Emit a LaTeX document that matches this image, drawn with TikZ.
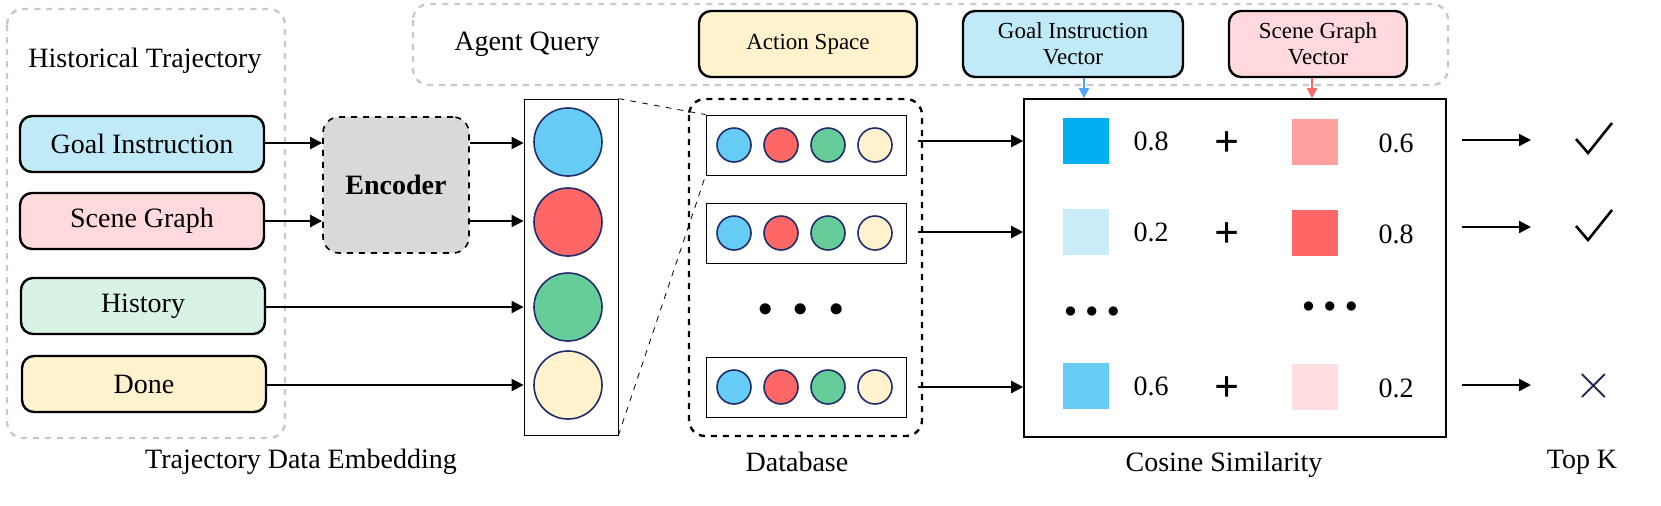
\documentclass[tikz,border=0pt]{standalone}
\usepackage{fontspec}
\setmainfont{Liberation Serif}
\usetikzlibrary{arrows.meta,calc}

\definecolor{gcol}{HTML}{C0EAF8}
\definecolor{scol}{HTML}{FFD9DC}
\definecolor{hcol}{HTML}{D8F2E4}
\definecolor{dcol}{HTML}{FFF2CC}
\definecolor{cblue}{HTML}{66CCF5}
\definecolor{cred}{HTML}{FF6666}
\definecolor{cgreen}{HTML}{66CC99}
\definecolor{navy}{HTML}{1F2D6B}
\definecolor{dgray}{HTML}{C8C8C8}

\tikzset{
  inbox/.style={draw,very thick,rounded corners=6pt,minimum width=122pt,minimum height=28pt,font=\fontsize{14}{16}\selectfont},
  qbox/.style={draw,very thick,rounded corners=6pt,minimum height=33pt,align=center,font=\fontsize{11.5}{13}\selectfont},
  grpbox/.style={draw=dgray,very thick,dashed,rounded corners=8pt},
  emb/.style={circle,draw=navy,thick,minimum size=34pt,inner sep=0pt},
  sml/.style={circle,draw=navy,thick,minimum size=17pt,inner sep=0pt},
  sq/.style={minimum size=23pt,inner sep=0pt},
  arr/.style={-{Triangle[length=6pt,width=6pt]},line width=1.1pt},
  lbl/.style={font=\fontsize{14}{16}\selectfont},
  tick/.style={line width=1.3pt},
}

\begin{document}
\begin{tikzpicture}[x=0.5pt,y=-0.5pt]
    \useasboundingbox (0,0) rectangle (1661,505);

        % group frames
        \draw[grpbox] (7,9) rectangle (285,438);
        \draw[grpbox] (413,4) rectangle (1448,85);
        \draw[very thick,dashed,rounded corners=8pt] (689,99) rectangle (922,436);
        \node[lbl] (hist) at (145,61) {Historical Trajectory};
        \node[lbl] (aq) at (527,44) {Agent Query};

        % inputs
        \node[inbox,fill=gcol] (goal) at (142,144) {Goal Instruction};
        \node[inbox,fill=scol] (scene) at (142,221) {Scene Graph};
        \node[inbox,fill=hcol] (histy) at (143,306) {History};
        \node[inbox,fill=dcol] (done) at (144,384) {Done};

        \node[draw,thick,dashed,fill=gray!30,rounded corners=8pt,minimum width=73pt,minimum height=68pt,font=\fontsize{14}{16}\selectfont\bfseries] (enc) at (396,185) {Encoder};

        % embedding column
        \node[draw,minimum width=47pt,minimum height=168pt,inner sep=0pt] (col) at (571,267) {};
        \node[emb,fill=cblue] (e1) at (568,142) {};
        \node[emb,fill=cred] (e2) at (568,222) {};
        \node[emb,fill=cgreen] (e3) at (568,307) {};
        \node[emb,fill=dcol] (e4) at (568,385) {};

        \draw[arr] (goal.east |- 0,143) -- (enc.west |- 0,143);
        \draw[arr] (scene.east |- 0,221) -- (enc.west |- 0,221);
        \draw[arr] (enc.east |- 0,143) -- (col.west |- 0,143);
        \draw[arr] (enc.east |- 0,221) -- (col.west |- 0,221);
        \draw[arr] (histy.east |- 0,307) -- (col.west |- 0,307);
        \draw[arr] (done.east |- 0,385) -- (col.west |- 0,385);

        % database rows
        \foreach \r/\y in {1/145,2/233,3/387} {
            \node[draw,minimum width=100pt,minimum height=30pt,inner sep=0pt] (row\r) at (806,\y) {};
            \node[sml,fill=cblue] at (734,\y) {};
            \node[sml,fill=cred] at (781,\y) {};
            \node[sml,fill=cgreen] at (828,\y) {};
            \node[sml,fill=dcol] at (875,\y) {};
        }
        \node[font=\fontsize{15}{15}\selectfont] (dbdots) at (801,310) {$\bullet\ \ \bullet\ \ \bullet$};
        \draw[dashed] (col.north east) -- (row1.north west);
        \draw[dashed] (col.south east) -- (row1.south west);

        % query boxes
        \node[qbox,fill=dcol,minimum width=109pt] (act) at (808,44) {Action Space};
        \node[qbox,fill=gcol,minimum width=110pt] (giv) at (1073,44) {Goal Instruction\\Vector};
        \node[qbox,fill=scol,minimum width=89pt] (sgv) at (1318,44) {Scene Graph\\Vector};

        % cosine similarity
        \node[draw,thick,minimum width=211pt,minimum height=169pt,inner sep=0pt] (cos) at (1235,268) {};
        \draw[-{Triangle[length=5pt,width=5pt]},thick,draw=cblue!80!blue,fill=cblue!80!blue] (giv.south -| 1084,0) -- (cos.north -| 1084,0);
        \draw[-{Triangle[length=5pt,width=5pt]},thick,draw=cred,fill=cred] (sgv.south -| 1312,0) -- (cos.north -| 1312,0);

        \foreach \r/\y/\bc/\a/\rc/\b in {1/141/00B0F0/0.8/FFA0A0/0.6, 2/232/C8ECF8/0.2/FF6666/0.8, 3/386/66CCF5/0.6/FFDDE0/0.2} {
            \definecolor{bq}{HTML}{\bc}
            \definecolor{rq}{HTML}{\rc}
            \node[sq,fill=bq] (b\r) at (1086,\y) {};
            \node[lbl] at (1151,\y) {\a};
            \node[font=\fontsize{22}{22}\selectfont\bfseries] at (1227,\y+3) {+};
            \node[sq,fill=rq] (s\r) at (1315,\y+1) {};
            \node[lbl] at (1396,\y+2) {\b};
        }
        \node[font=\fontsize{12}{12}\selectfont] (cd1) at (1092,312) {$\bullet\,\bullet\,\bullet$};
        \node[font=\fontsize{12}{12}\selectfont] (cd2) at (1330,307) {$\bullet\,\bullet\,\bullet$};

        \draw[arr] (row1.east |- 0,141) ++(12,0) -- (cos.west |- 0,141);
        \draw[arr] (row2.east |- 0,232) ++(12,0) -- (cos.west |- 0,232);
        \draw[arr] (row3.east |- 0,387) ++(12,0) -- (cos.west |- 0,387);

        % top k
        \coordinate (k1) at (1594,139);
        \coordinate (k2) at (1594,226);
        \draw[tick] ($(k1)+(-18,0)$) -- ($(k1)+(-6,14)$) -- ($(k1)+(18,-16)$);
        \draw[tick] ($(k2)+(-18,0)$) -- ($(k2)+(-6,14)$) -- ($(k2)+(18,-16)$);
        \node[font=\fontsize{34}{34}\selectfont,text=navy!70!black] (k3) at (1594,386) {$\times$};
        \draw[arr] (cos.east |- 0,140) ++(15,0) -- (1531,140);
        \draw[arr] (cos.east |- 0,227) ++(15,0) -- (1531,227);
        \draw[arr] (cos.east |- 0,385) ++(15,0) -- (1531,385);

        % captions
        \node[lbl] (cap1) at (301,462) {Trajectory Data Embedding};
        \node[lbl] (cap2) at (797,462) {Database};
        \node[lbl] (cap3) at (1224,465) {Cosine Similarity};
        \node[lbl] (cap4) at (1582,462) {Top K};

\end{tikzpicture}
\end{document}
